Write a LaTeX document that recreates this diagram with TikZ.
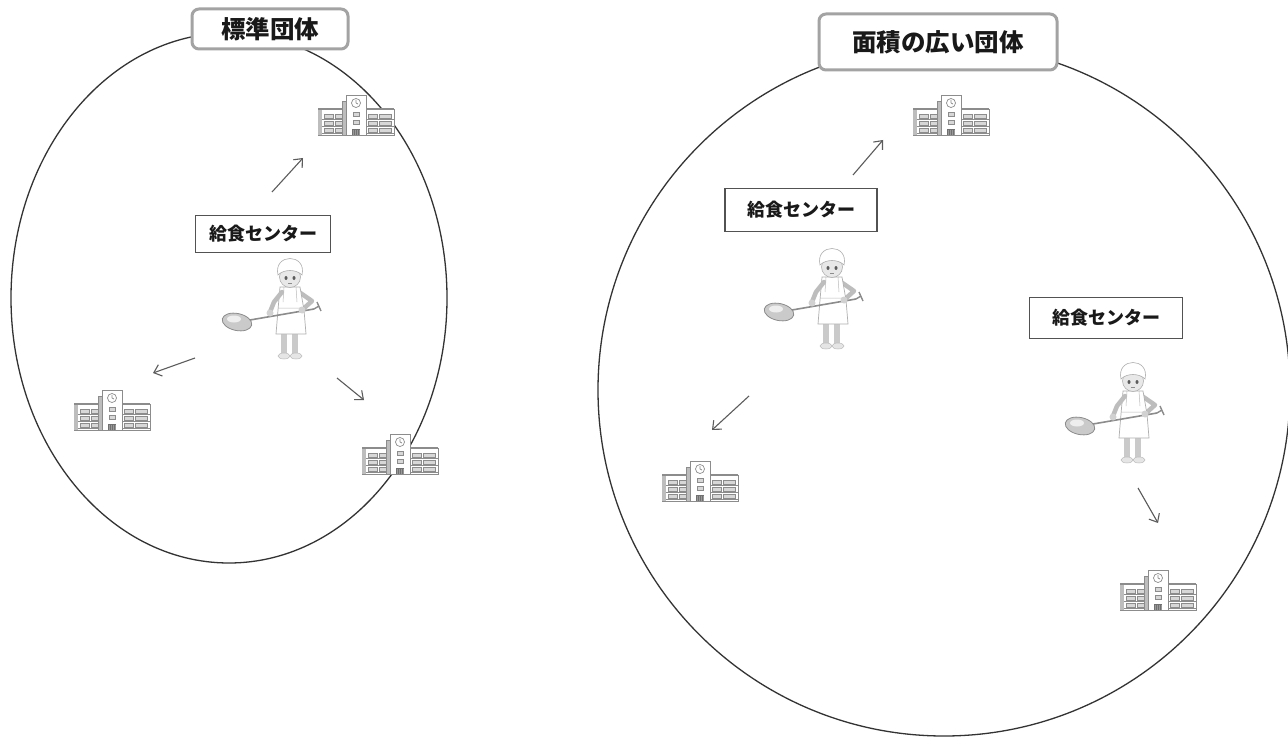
\documentclass[tikz,border=0pt]{standalone}
\usepackage{fontspec}
\newfontfamily\jp{Noto Sans CJK JP}
\usetikzlibrary{arrows.meta}

\definecolor{ink}{HTML}{333333}
\definecolor{lg}{HTML}{BDBDBD}
\definecolor{mg}{HTML}{8C8C8C}

\tikzset{
  region/.style={draw=ink, line width=1.3pt},
  titlebox/.style={draw=mg!80, line width=3pt, rounded corners=7pt, fill=white,
    font=\jp\bfseries\fontsize{24.5}{26}\selectfont, text=black!90, inner sep=0pt},
  centerbox/.style={draw=ink!85, line width=1.3pt, fill=white,
    font=\jp\bfseries\fontsize{18}{20}\selectfont, text=black!90, inner sep=0pt},
  flow/.style={draw=ink!80, line width=1.1pt, -{Straight Barb[length=7pt,width=12pt]}},
  % school building, centred on the pic origin, about 76 x 40
  building/.pic={
    \begin{scope}[line width=0.7pt, draw=mg]
      \filldraw[fill=white] (-38,-6) rectangle (-10,20);
      \filldraw[fill=white] (10,-6) rectangle (38,20);
      \fill[lg] (-38,-6) rectangle (-34,20);
      \draw[line width=1.4pt] (-38,-6) -- (-10,-6) (10,-6) -- (38,-6);
      \foreach \yy in {-1,6,13}{
        \filldraw[fill=lg!60] (-32,\yy) rectangle (-23,\yy+4);
        \filldraw[fill=lg!60] (-21,\yy) rectangle (-12,\yy+4);
        \filldraw[fill=lg!60] (12,\yy) rectangle (21,\yy+4);
        \filldraw[fill=lg!60] (23,\yy) rectangle (35,\yy+4);
        \draw (-34,\yy+5.5) -- (-10,\yy+5.5) (10,\yy+5.5) -- (38,\yy+5.5);
      }
      \filldraw[fill=lg] (-14,-14) rectangle (-10,20);
      \filldraw[fill=white] (-10,-20) rectangle (10,20);
      \draw (0,-12) circle (4.5pt);
      \draw (0,-12) -- (0,-15) (0,-12) -- (2,-11);
      \filldraw[fill=lg!60] (-3,-3) rectangle (3,1);
      \filldraw[fill=lg!60] (-3,5) rectangle (3,9);
      \fill[ink!70] (-4,14) rectangle (4,20);
      \draw[ink!50] (-3,15) -- (-3,20) (-1,15) -- (-1,20) (1,15) -- (1,20) (3,15) -- (3,20);
    \end{scope}
  },
  % cook holding a ladle, origin at the centre of the head
  chef/.pic={
    % legs and shoes
    \fill[lg!80] (-9,58) rectangle (-3,82);
    \fill[lg!80] (2,58) rectangle (8,82);
    \filldraw[fill=lg!40, draw=mg!60, line width=0.5pt] (-6,84) ellipse [x radius=6pt, y radius=3pt];
    \filldraw[fill=lg!40, draw=mg!60, line width=0.5pt] (6,84) ellipse [x radius=6pt, y radius=3pt];
    % akimbo arm on the right
    \draw[lg, line width=4.5pt, line cap=round, line join=round] (9,20) -- (22,29) -- (12,38);
    % apron
    \filldraw[fill=white, draw=mg!70, line width=0.7pt]
      (-10,15) -- (10,15) -- (14,38) -- (16,62) -- (-14,62) -- (-12,38) -- cycle;
    \draw[mg!60, line width=0.5pt] (-6,15) -- (-7,30) (6,15) -- (7,30) (-12,36) -- (14,36);
    % arm reaching down to the handle
    \draw[lg, line width=4.5pt, line cap=round, line join=round] (-8,20) -- (-16,30) -- (-20,40);
    % ladle
    \draw[mg, line width=1.6pt] (-40,48) -- (24,37);
    \draw[mg, line width=1.4pt] (24,37) -- (29,34) (27,30) -- (31,39);
    \filldraw[fill=lg!80, draw=mg, line width=0.8pt, rotate around={-12:(-53,50)}]
      (-53,50) ellipse [x radius=15pt, y radius=8.5pt];
    \fill[lg!25] (-56,47) ellipse [x radius=7pt, y radius=3.5pt];
    % hands
    \fill[lg!70] (-20,41) circle (3.5pt);
    \fill[lg!70] (12,38) circle (3.5pt);
    % head and cap
    \filldraw[fill=lg!35, draw=mg!70, line width=0.6pt] (0,5) circle (10.5pt);
    \filldraw[fill=white, draw=mg!70, line width=0.6pt]
      (-12,3) .. controls (-17,-19) and (17,-19) .. (12,3)
      .. controls (6,-3) and (-6,-3) .. cycle;
    \fill[ink!80] (-4,6) ellipse [x radius=1.5pt, y radius=2pt];
    \fill[ink!80] (4,6) ellipse [x radius=1.5pt, y radius=2pt];
    \draw[mg, line width=0.5pt] (-2,11) -- (2,11);
  }
}

\begin{document}
\begin{tikzpicture}[x=1pt, y=-1pt]
  \useasboundingbox[fill=white] (0,0) rectangle (1288,738);

  % the two service areas
  \draw[region] (229,298) ellipse [x radius=218pt, y radius=265pt];
  \draw[region] (944,390) ellipse [x radius=346pt, y radius=346pt];

  % area titles
  \node[titlebox, minimum width=156pt, minimum height=40pt] (t1) at (270,29) {標準団体};
  \node[titlebox, minimum width=238pt, minimum height=56pt] (t2) at (938,42) {面積の広い団体};

  % standard area
  \node[centerbox, minimum width=135pt, minimum height=37pt] (c1) at (263,234) {給食センター};
  \pic (k1) at (290,272) {chef};
  \pic (s1) at (356,115) {building};
  \pic (s2) at (112,410) {building};
  \pic (s3) at (400,454) {building};

  \coordinate (a1s) at (272,192); \coordinate (a1e) at (303,158);
  \coordinate (a2s) at (195,358); \coordinate (a2e) at (153,373);
  \coordinate (a3s) at (337,378); \coordinate (a3e) at (364,400);
  \draw[flow] (a1s) -- (a1e);
  \draw[flow] (a2s) -- (a2e);
  \draw[flow] (a3s) -- (a3e);

  % wide area
  \node[centerbox, minimum width=152pt, minimum height=43pt] (c2) at (801,210) {給食センター};
  \node[centerbox, minimum width=153pt, minimum height=41pt] (c3) at (1106,318) {給食センター};
  \pic (k2) at (832,262) {chef};
  \pic (k3) at (1133,376) {chef};
  \pic (s4) at (951,115) {building};
  \pic (s5) at (700,481) {building};
  \pic (s6) at (1158,590) {building};

  \coordinate (b1s) at (853,175); \coordinate (b1e) at (883,140);
  \coordinate (b2s) at (749,396); \coordinate (b2e) at (712,430);
  \coordinate (b3s) at (1138,488); \coordinate (b3e) at (1158,523);
  \draw[flow] (b1s) -- (b1e);
  \draw[flow] (b2s) -- (b2e);
  \draw[flow] (b3s) -- (b3e);
\end{tikzpicture}
\end{document}
